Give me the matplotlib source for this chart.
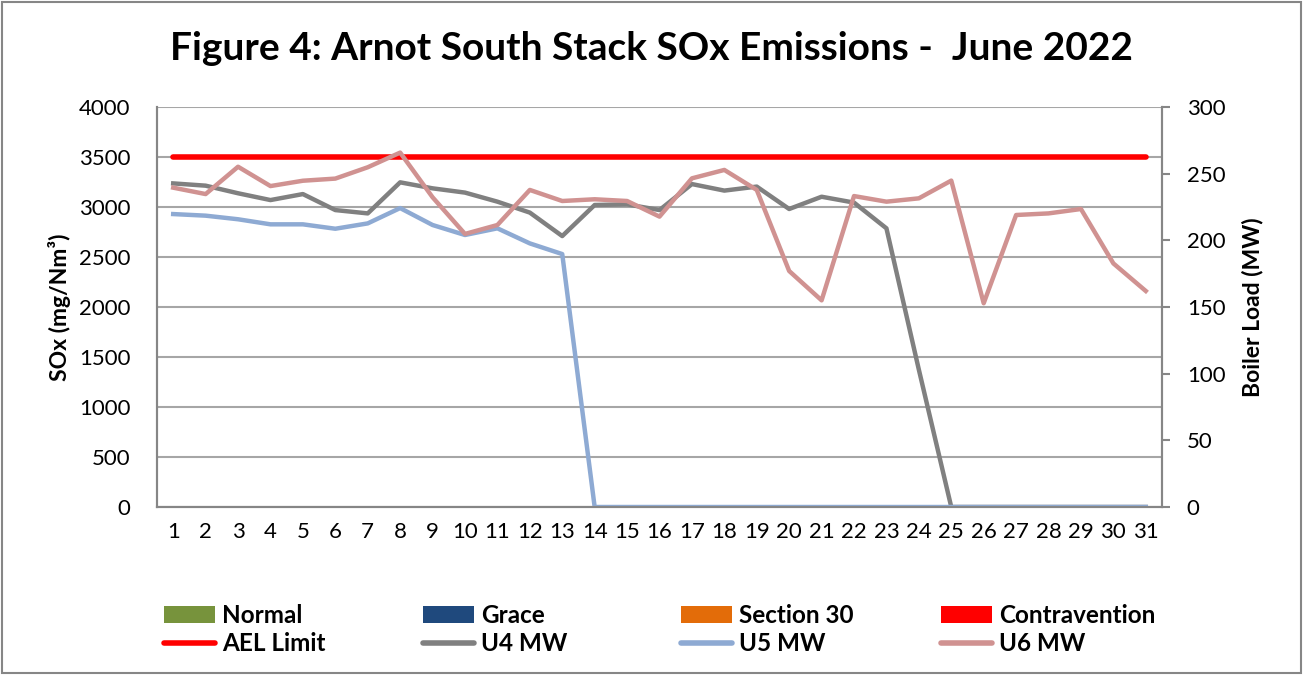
import matplotlib
matplotlib.use("Agg")
import matplotlib.pyplot as plt
from matplotlib.patches import Patch, Rectangle
from matplotlib.lines import Line2D

plt.rcParams['font.family'] = ['Lato', 'DejaVu Sans']

days = list(range(1, 32))
ael_limit = [3500] * 31
u4_mw = [242.7, 241, 235.3, 230.2, 234.7, 222.7, 220.2, 243.5, 239, 235.8, 229, 220.8, 203.2,
         226.5, 227, 222.7, 242.2, 237.3, 240.3, 223.5, 232.7, 228.3, 209, 103, 0,
         0, 0, 0, 0, 0, 0]
u5_mw = [219.7, 218.5, 215.8, 212, 212, 208.7, 212.7, 224.2, 211.5, 204, 209, 197.7, 189.7,
         0, 0, 0, 0, 0, 0, 0, 0, 0, 0, 0, 0, 0, 0, 0, 0, 0, 0]
u6_mw = [239.5, 234.7, 255.2, 240.7, 244.7, 246.3, 254.8, 265.8, 232.3, 204.8, 211.5, 237.8, 229.5,
         230.8, 229.5, 217.8, 246.5, 252.8, 237.8, 177, 155, 233.2, 229, 231.5, 244.8,
         152.8, 219, 220.2, 223.5, 182.7, 162]

title = "Figure 4: Arnot South Stack SOx Emissions -  June 2022"
left_ticks = list(range(0, 4001, 500))
right_ticks = list(range(0, 301, 50))

W, H = 1303, 675
fig = plt.figure(figsize=(W / 100, H / 100), dpi=100)
ax = fig.add_axes([157 / W, 1 - 507 / H, (1162 - 157) / W, 400 / H])
ax2 = ax.twinx()

grid_c = '#a6a6a6'
ax.set_xlim(0.5, 31.5)
ax.set_ylim(0, 4000)
ax2.set_ylim(0, 300)
ax.set_yticks(left_ticks)
ax2.set_yticks(right_ticks)
ax.set_xticks(days)
ax.yaxis.grid(True, color=grid_c, linewidth=1.5)
ax.set_axisbelow(True)

for a in (ax, ax2):
    a.spines['top'].set_visible(False)
    for s in ('left', 'right', 'bottom'):
        a.spines[s].set_color('#868686')
        a.spines[s].set_linewidth(1.5)
ax.tick_params(axis='y', colors='#868686', labelcolor='black', labelsize=16, length=0, pad=19)
ax2.tick_params(axis='y', colors='#868686', labelcolor='black', labelsize=16, length=5.8, width=1.5, pad=12)
ax.tick_params(axis='x', length=0, labelsize=16, pad=11)

ax.plot(days, ael_limit, color='#ff0000', linewidth=4, solid_capstyle='round', zorder=3)
ax2.plot(days, u4_mw, color='#808080', linewidth=3.2)
ax2.plot(days, u5_mw, color='#8eaad3', linewidth=3.2)
ax2.plot(days, u6_mw, color='#d09291', linewidth=3.2)

ax.set_ylabel('SOx (mg/Nm³)', fontsize=16.5, fontweight='bold', labelpad=6)
ax2.set_ylabel('Boiler Load (MW)', fontsize=16.5, fontweight='bold', labelpad=12)

fig.text(0.5, 1 - 49 / H, title, ha='center', va='center', fontsize=28, fontweight='bold')

# legend: four columns
cols = [
    (164, ('Normal', '#77933c'), ('AEL Limit', '#ff0000')),
    (423, ('Grace', '#1f497d'), ('U4 MW', '#808080')),
    (681, ('Section 30', '#e36c09'), ('U5 MW', '#8eaad3')),
    (941, ('Contravention', '#ff0000'), ('U6 MW', '#d09291')),
]
for x, (pl, pc), (ll, lc) in cols:
    handles = [Patch(facecolor=pc, edgecolor='none'),
               Line2D([0], [0], color=lc, linewidth=4, solid_capstyle='round')]
    fig.legend(handles, [pl, ll], loc='upper left', bbox_to_anchor=(x / W, 1 - 604 / H),
               frameon=False, ncol=1, handlelength=2.1, handleheight=0.65, handletextpad=0.3,
               labelspacing=0.2, borderaxespad=0, borderpad=0,
               prop={'size': 17.5, 'weight': 'bold'})

fig.patches.append(Rectangle((2 / W, 2 / H), 1 - 4 / W, 1 - 4 / H, transform=fig.transFigure,
                             fill=False, edgecolor='#868686', linewidth=1.5))

fig.savefig('out.png', dpi=100)
